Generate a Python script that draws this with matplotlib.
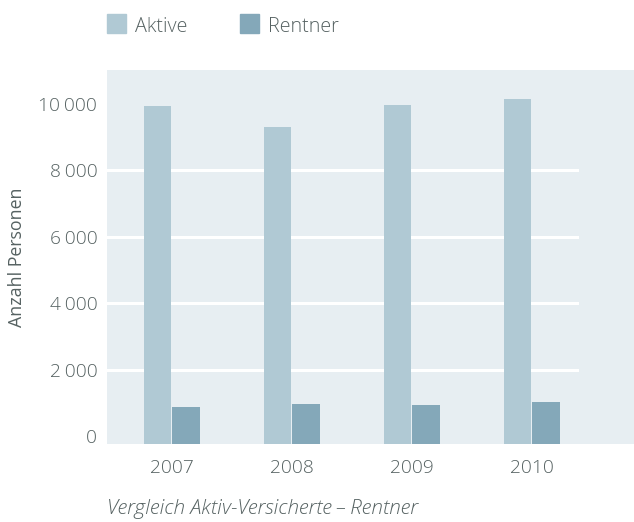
import matplotlib
matplotlib.use("Agg")
import matplotlib.pyplot as plt
from matplotlib.patches import Rectangle
import numpy as np

years = ["2007", "2008", "2009", "2010"]
aktive = [9950, 9310, 9960, 10150]
rentner = [890, 980, 950, 1040]
yticks = [0, 2000, 4000, 6000, 8000, 10000]
grid_values = [2000, 4000, 6000, 8000]
ytick_labels = ["0", "2\u2009000", "4\u2009000", "6\u2009000", "8\u2009000", "10\u2009000"]
series_names = ["Aktive", "Rentner"]
ylabel = "Anzahl Personen"
caption = "Vergleich Aktiv-Versicherte\u2009–\u2009Rentner"

c_akt = "#b0c9d4"
c_ren = "#84a8b9"
c_bg = "#e7eef2"
c_txt = "#566262"

plt.rcParams['font.family'] = ['Open Sans', 'DejaVu Sans']
plt.rcParams['font.weight'] = 'light'

W, H = 634, 522
fig = plt.figure(figsize=(W / 100, H / 100), dpi=100)
ax = fig.add_axes([107 / W, (H - 444) / H, (634 - 107) / W, (444 - 70) / H])
ax.set_facecolor(c_bg)
for s in ax.spines.values():
    s.set_visible(False)

ymin, ymax = -226, 11020
ax.set_ylim(ymin, ymax)
ax.set_xlim(-0.54, 3.853)

# gridlines
for t in grid_values:
    ax.axhline(t, xmin=0, xmax=(577 - 107) / (634 - 107), color="white", lw=2.2, zorder=1)

x = np.arange(len(years))
ax.bar(x - 0.12, np.array(aktive) - ymin, bottom=ymin, width=0.222, color=c_akt, zorder=2)
ax.bar(x + 0.12, np.array(rentner) - ymin, bottom=ymin, width=0.23, color=c_ren, zorder=2)

ax.set_yticks(yticks)
ax.set_yticklabels(ytick_labels)
ax.set_xticks(x)
ax.set_xticklabels(years)
ax.tick_params(axis="both", length=0, labelsize=13.8, colors=c_txt)
ax.tick_params(axis="y", pad=7)
ax.tick_params(axis="x", pad=11)
ax.set_ylabel(ylabel, fontsize=12.8, color=c_txt, labelpad=9)

# legend
for i, (name, col) in enumerate(zip(series_names, [c_akt, c_ren])):
    x0 = [107, 240][i]
    fig.patches.append(Rectangle((x0 / W, (H - 33) / H), 19 / W, 19 / H,
                                 transform=fig.transFigure, color=col))
    fig.text((x0 + 28) / W, (H - 27) / H, name, fontsize=14.2, color=c_txt,
             va="center", ha="left")

fig.text(107 / W, (H - 509) / H, caption, fontsize=15, color=c_txt,
         style="italic", va="center", ha="left")

fig.savefig("out.png", dpi=100)
